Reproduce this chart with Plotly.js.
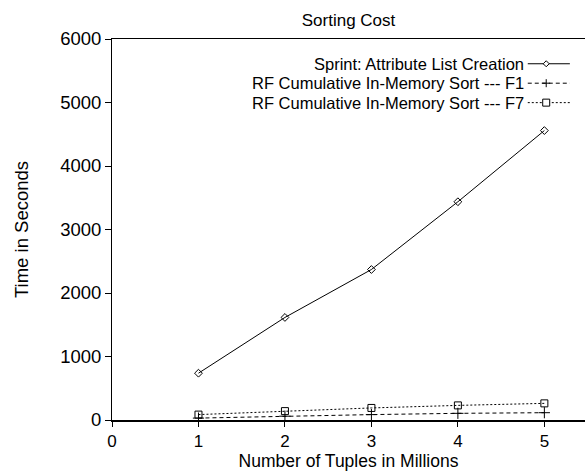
<!DOCTYPE html>
<html>
<head>
<meta charset="utf-8">
<script src="https://cdn.plot.ly/plotly-3.0.1.min.js"></script>
<style>html,body{margin:0;padding:0;background:#fff;}#chart{width:585px;height:472px;}</style>
</head>
<body>
<div id="chart"></div>
<script>
const tuples = [1, 2, 3, 4, 5];
const sprintAttrList = [737, 1615, 2370, 3437, 4558];
const rfSortF1 = [30, 60, 85, 105, 115];
const rfSortF7 = [85, 140, 190, 230, 262];
const seriesNames = [
  'Sprint: Attribute List Creation',
  'RF Cumulative In-Memory Sort --- F1',
  'RF Cumulative In-Memory Sort --- F7'
];
const xTicks = [0, 1, 2, 3, 4, 5];
const yTicks = [0, 1000, 2000, 3000, 4000, 5000, 6000];

const FONT = 'Liberation Sans, Arial, sans-serif';

const traces = [
  {x: tuples, y: sprintAttrList, name: seriesNames[0], mode: 'lines+markers',
   line: {color: '#000', width: 1, dash: 'solid'},
   marker: {symbol: 'diamond-open', size: 6, color: '#000', line: {width: 1}}},
  {x: tuples, y: rfSortF1, name: seriesNames[1], mode: 'lines+markers',
   line: {color: '#000', width: 1, dash: '4px,3px'},
   marker: {symbol: 'cross-thin-open', size: 8, color: '#000', line: {width: 1}}},
  {x: tuples, y: rfSortF7, name: seriesNames[2], mode: 'lines+markers',
   line: {color: '#000', width: 1, dash: '2px,2px'},
   marker: {symbol: 'square-open', size: 7, color: '#000', line: {width: 1}}}
];

// custom legend (text on left, sample on right, gnuplot style)
const legRowsY = [0.935, 0.884, 0.833];
const legTextX = 0.873;
const legLineX0 = 0.879, legLineX1 = 0.968, legMarkX = 0.918;
const dashes = ['solid', '4px,3px', '2px,2px'];
const annotations = seriesNames.map((n, i) => ({
  xref: 'paper', yref: 'paper', x: legTextX, y: legRowsY[i],
  xanchor: 'right', yanchor: 'middle', text: n, showarrow: false, borderpad: 0,
  font: {family: FONT, size: 16.5, color: '#000'}
}));
const shapes = [];
legRowsY.forEach((y, i) => {
  shapes.push({type: 'line', xref: 'paper', yref: 'paper', x0: legLineX0, x1: legLineX1, y0: y, y1: y,
    line: {color: '#000', width: 1, dash: dashes[i]}});
});
shapes.push({type: 'path', xref: 'paper', yref: 'paper', xsizemode: 'pixel', ysizemode: 'pixel',
  xanchor: legMarkX, yanchor: legRowsY[0], path: 'M -3 0 L 0 3 L 3 0 L 0 -3 Z',
  fillcolor: '#fff', line: {color: '#000', width: 1}});
shapes.push({type: 'path', xref: 'paper', yref: 'paper', xsizemode: 'pixel', ysizemode: 'pixel',
  xanchor: legMarkX, yanchor: legRowsY[1], path: 'M -4 0 L 4 0 M 0 -4 L 0 4',
  line: {color: '#000', width: 1}});
shapes.push({type: 'rect', xref: 'paper', yref: 'paper', xsizemode: 'pixel', ysizemode: 'pixel',
  xanchor: legMarkX, yanchor: legRowsY[2], x0: -3.5, x1: 3.5, y0: -3.5, y1: 3.5,
  fillcolor: '#fff', line: {color: '#000', width: 1}});

const layout = {
  width: 585, height: 472,
  margin: {l: 112, r: 0, t: 39, b: 52},
  paper_bgcolor: '#fff', plot_bgcolor: '#fff',
  showlegend: false,
  font: {family: FONT, color: '#000', size: 17},
  title: {text: 'Sorting Cost', font: {family: FONT, size: 17, color: '#000'},
    xref: 'paper', x: 0.5, xanchor: 'center', yref: 'container', y: 0.958, yanchor: 'middle'},
  xaxis: {
    range: [0, 5.47], tickvals: xTicks, ticktext: xTicks.map(String),
    showgrid: false, zeroline: false,
    showline: true, linecolor: '#000', linewidth: 1.5, mirror: true,
    ticks: 'outside', ticklen: 5, tickcolor: '#000', tickwidth: 1,
    tickfont: {family: FONT, size: 17, color: '#000'},
    title: {text: 'Number of Tuples in Millions', font: {family: FONT, size: 17.5, color: '#000'}, standoff: 1}
  },
  yaxis: {
    range: [0, 6000], tickvals: yTicks, ticktext: yTicks.map(String),
    showgrid: false, zeroline: false,
    showline: true, linecolor: '#000', linewidth: 1,
    ticks: 'outside', ticklen: 6, tickcolor: '#000', tickwidth: 1,
    tickfont: {family: FONT, size: 18.5, color: '#000'},
    title: {text: 'Time in Seconds', font: {family: FONT, size: 18.5, color: '#000'}, standoff: 26}
  },
  annotations: annotations,
  shapes: shapes
};

Plotly.newPlot('chart', traces, layout, {displayModeBar: false, staticPlot: true});
</script>
</body>
</html>
